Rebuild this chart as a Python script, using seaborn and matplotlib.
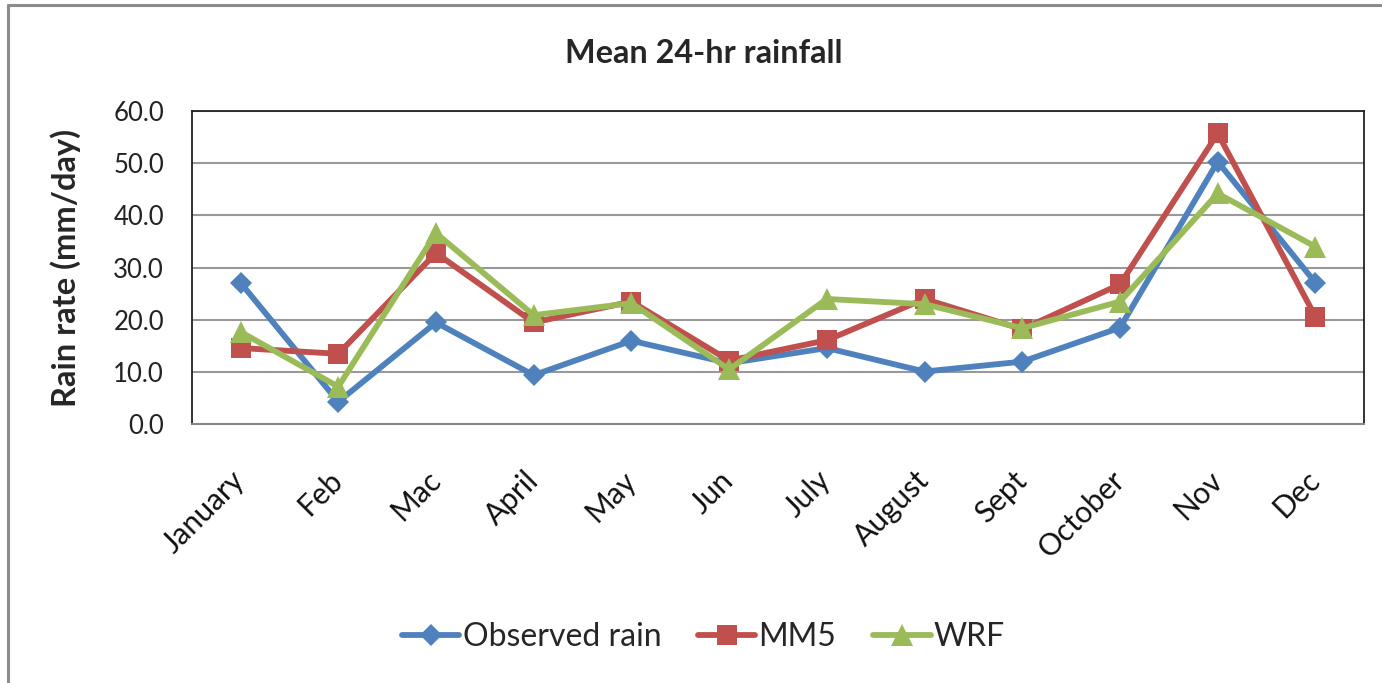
import matplotlib
matplotlib.use("Agg")
import matplotlib.pyplot as plt
from matplotlib.lines import Line2D
from matplotlib.transforms import ScaledTranslation
import seaborn as sns
import pandas as pd
import numpy as np

months = ["January", "Feb", "Mac", "April", "May", "Jun", "July",
          "August", "Sept", "October", "Nov", "Dec"]
observed = [27.1, 4.3, 19.5, 9.4, 16.0, 11.7, 14.6, 10.1, 12.0, 18.5, 50.3, 27.1]
mm5 = [14.6, 13.5, 32.8, 19.5, 23.5, 12.2, 16.1, 24.0, 18.2, 26.8, 55.7, 20.6]
wrf = [17.7, 7.2, 36.6, 20.9, 23.2, 10.5, 24.0, 23.0, 18.4, 23.5, 44.2, 34.0]
series_names = ["Observed rain", "MM5", "WRF"]
yticks = [0, 10, 20, 30, 40, 50, 60]

colors = {"Observed rain": "#4F81BD", "MM5": "#C0504D", "WRF": "#9BBB59"}
markers = {"Observed rain": "D", "MM5": "s", "WRF": "^"}
sizes = {"Observed rain": 11, "MM5": 15, "WRF": 16}
line_w = 4.2

df = pd.DataFrame({
    "pos": np.tile(np.arange(len(months)), 3),
    "rain": observed + mm5 + wrf,
    "series": np.repeat(series_names, len(months)),
})

sns.set_style("white")
plt.rcParams["font.family"] = ["Lato", "DejaVu Sans"]

fig = plt.figure(figsize=(13.82, 6.83), dpi=100)
ax = fig.add_axes([0.1387, 0.3788, 0.8485, 0.4587])

ax.set_axisbelow(True)
ax.yaxis.grid(True, color="#999999", linewidth=1.5)

for name in series_names:
    sub = df[df["series"] == name]
    sns.lineplot(data=sub, x="pos", y="rain", ax=ax, color=colors[name],
                 marker=markers[name], markersize=sizes[name],
                 markeredgewidth=0, linewidth=line_w, label=name,
                 legend=False, zorder=3)

ax.set_xlim(-0.5, len(months) - 0.5)
ax.set_ylim(0, 60)
ax.set_yticks(yticks)
ax.set_yticklabels([f"{v:.1f}" for v in yticks], fontsize=18.5, color="#222222")
ax.set_xticks(np.arange(len(months)))
ax.set_xticklabels(months, fontsize=21.5, rotation=45, ha="right",
                   va="center", rotation_mode="anchor", color="#111111")
shift = ScaledTranslation(8 / 100, 0, fig.dpi_scale_trans)
for lbl in ax.get_xticklabels():
    lbl.set_transform(lbl.get_transform() + shift)
ax.tick_params(axis="x", length=0, pad=37)
ax.tick_params(axis="y", length=0, pad=20)
ax.set_xlabel("")
ax.set_ylabel("Rain rate (mm/day)", fontsize=23.5, fontweight="bold")
ax.yaxis.set_label_coords(-0.094, 0.5)

for side in ["left", "top", "right"]:
    ax.spines[side].set_color("#222222")
    ax.spines[side].set_linewidth(1.3)
ax.spines["bottom"].set_color("#888888")
ax.spines["bottom"].set_linewidth(1.5)

fig.suptitle("Mean 24-hr rainfall", x=0.509, y=0.922, fontsize=23.3,
             fontweight="bold", va="center")

handles = [Line2D([0], [0], color=colors[n], marker=markers[n],
                  markersize=sizes[n], markeredgewidth=0, linewidth=line_w)
           for n in series_names]
fig.legend(handles, series_names, loc="center", bbox_to_anchor=(0.509, 0.067),
           ncol=3, frameon=False, fontsize=23, handlelength=1.8,
           handletextpad=0.1, columnspacing=1.15)

# outer chart-area border
border = dict(color="#8c8c8c", linewidth=2.2, transform=fig.transFigure)
fig.add_artist(Line2D([8 / 1382, 8 / 1382], [0, 1 - 5 / 683], **border))
fig.add_artist(Line2D([8 / 1382, 1], [1 - 5 / 683, 1 - 5 / 683], **border))

fig.savefig("out.png", dpi=100)
